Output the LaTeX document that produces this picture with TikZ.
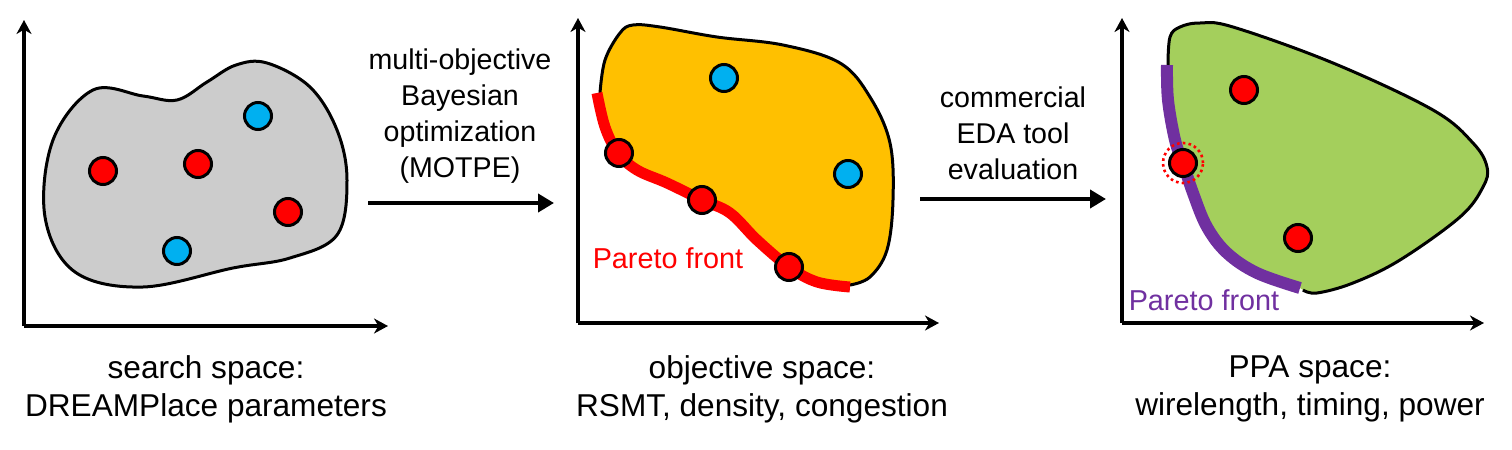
\documentclass[tikz,border=0pt]{standalone}
\usepackage{fontspec}
\setmainfont{Liberation Sans}
\usetikzlibrary{arrows.meta}
\definecolor{blobgray}{HTML}{CCCCCC}
\definecolor{bloborange}{HTML}{FFC000}
\definecolor{blobgreen}{HTML}{A4CF5C}
\definecolor{dotblue}{HTML}{00B0F0}
\definecolor{dotred}{HTML}{FF0000}
\definecolor{frontpurple}{HTML}{7030A0}
\tikzset{
  axis/.style={line width=1.6pt,-{Stealth[length=7pt,width=7.5pt,inset=2.2pt]}},
  bigarrow/.style={line width=2.2pt,-{Triangle[length=8pt,width=9pt]}},
  blobline/.style={line width=1.5pt,draw=black},
  reddot/.style={circle,draw=black,line width=1.5pt,fill=dotred,minimum size=13.5pt,inner sep=0pt},
  bluedot/.style={circle,draw=black,line width=1.5pt,fill=dotblue,minimum size=13.5pt,inner sep=0pt},
  front/.style={line width=5.5pt,line cap=butt},
  caption/.style={align=center,font=\fontsize{15.8pt}{19pt}\selectfont},
  midtext/.style={align=center,font=\fontsize{14.3pt}{18pt}\selectfont},
  fronttext/.style={font=\fontsize{14.4pt}{17pt}\selectfont,inner sep=0pt}
}
\begin{document}
\begin{tikzpicture}[x=0.5pt,y=-0.5pt]
\useasboundingbox (0,0) rectangle (1512,450);
% ---------- panel 1 ----------
\coordinate (o1) at (24,326);
\coordinate (y1) at (24,20);
\coordinate (x1) at (388,326);
\filldraw[blobline,fill=blobgray] plot[smooth cycle,tension=0.6] coordinates {
 (93,90) (143,96) (177,100) (207,82) (236,65) (267,63) (310,87) (337,130)
 (347,180) (337,235) (290,258) (233,268) (143,287) (75,272) (45,217) (53,140)};
\draw[axis] (o1) -- (y1);
\draw[axis] (o1) -- (x1);
\node[reddot] (p1a) at (103,171) {};
\node[reddot] (p1b) at (198,164) {};
\node[bluedot] (p1c) at (258,116) {};
\node[reddot] (p1d) at (288,212) {};
\node[bluedot] (p1e) at (177,251) {};
\node[caption] (cap1) at (206,389) {search space:\\DREAMPlace parameters};
% ---------- arrow 1 ----------
\coordinate (a1s) at (368,203);
\coordinate (a1e) at (554,203);
\draw[bigarrow] (a1s) -- (a1e);
\node[midtext] (t1) at (460,116) {multi-objective\\Bayesian\\optimization\\(MOTPE)};
% ---------- panel 2 ----------
\coordinate (o2) at (578,323);
\coordinate (y2) at (578,18);
\coordinate (x2) at (939,323);
\fill[bloborange] plot[smooth,tension=0.6] coordinates {
 (600,93) (605,60) (620,33) (633,25) (660,27) (717,37) (783,45) (840,63)
 (870,97) (890,143) (893,200) (887,250) (870,277) (850,285)}
 -- plot[smooth,tension=0.6] coordinates {
 (850,287) (817,282) (789,267) (757,240) (730,213) (702,200) (667,183)
 (637,170) (618,153) (605,127) (597,93)} -- cycle;
\draw[blobline] plot[smooth,tension=0.6] coordinates {
 (600,93) (605,60) (620,33) (633,25) (660,27) (717,37) (783,45) (840,63)
 (870,97) (890,143) (893,200) (887,250) (870,277) (850,285)};
\draw[front,dotred] plot[smooth,tension=0.6] coordinates {
 (597,93) (605,127) (618,153) (637,170) (667,183) (702,200) (730,213)
 (757,240) (789,267) (817,282) (850,287)};
\draw[axis] (o2) -- (y2);
\draw[axis] (o2) -- (x2);
\node[bluedot] (p2a) at (724,78) {};
\node[bluedot] (p2b) at (848,174) {};
\node[reddot] (p2c) at (619,153) {};
\node[reddot] (p2d) at (702,200) {};
\node[reddot] (p2e) at (789,267) {};
\node[fronttext,text=dotred] (f2) at (668,258) {Pareto front};
\node[caption] (cap2) at (762,389) {objective space:\\RSMT, density, congestion};
% ---------- arrow 2 ----------
\coordinate (a2s) at (920,199);
\coordinate (a2e) at (1106,199);
\draw[bigarrow] (a2s) -- (a2e);
\node[midtext] (t2) at (1013,133) {commercial\\EDA tool\\evaluation};
% ---------- panel 3 ----------
\coordinate (o3) at (1122,323);
\coordinate (y3) at (1122,18);
\coordinate (x3) at (1484,323);
\fill[blobgreen] plot[smooth,tension=0.6] coordinates {
 (1168,65) (1170,37) (1180,27) (1200,23) (1233,27) (1333,63) (1433,110)
 (1473,143) (1487,167) (1483,187) (1460,217) (1400,260) (1353,283)
 (1317,293) (1303,290)}
 -- plot[smooth,tension=0.6] coordinates {
 (1300,288) (1257,273) (1227,253) (1207,227) (1193,193) (1183,163)
 (1175,140) (1168,100) (1167,65)} -- cycle;
\draw[blobline] plot[smooth,tension=0.6] coordinates {
 (1168,65) (1170,37) (1180,27) (1200,23) (1233,27) (1333,63) (1433,110)
 (1473,143) (1487,167) (1483,187) (1460,217) (1400,260) (1353,283)
 (1317,293) (1303,290)};
\draw[front,frontpurple,line width=6pt] plot[smooth,tension=0.6] coordinates {
 (1167,65) (1168,100) (1175,140) (1183,163) (1193,193) (1207,227)
 (1227,253) (1257,273) (1300,288)};
\draw[axis] (o3) -- (y3);
\draw[axis] (o3) -- (x3);
\node[reddot] (p3a) at (1244,90) {};
\node[reddot] (p3b) at (1183,163) {};
\node[reddot] (p3c) at (1298,238) {};
\node[circle,draw=dotred,line width=1.3pt,dash pattern=on 1.3pt off 1.6pt,minimum size=20pt,inner sep=0pt] (ring) at (p3b) {};
\node[fronttext,text=frontpurple] (f3) at (1204,300) {Pareto front};
\node[caption] (cap3) at (1310,389) {PPA space:\\wirelength, timing, power};
\end{tikzpicture}
\end{document}
